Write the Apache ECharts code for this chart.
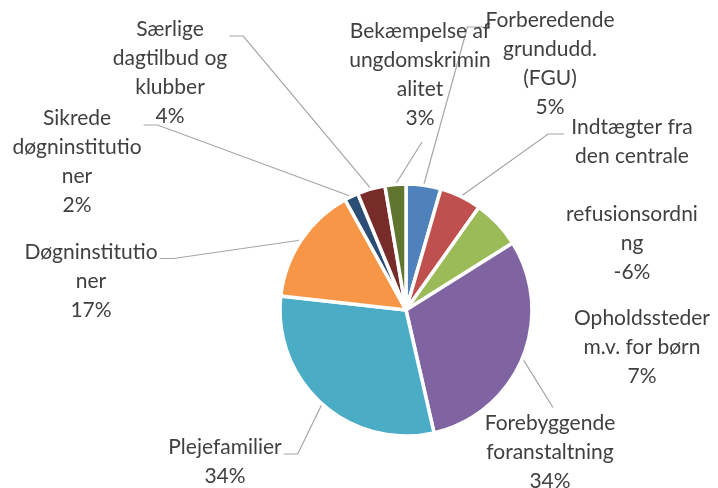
<!DOCTYPE html>
<html>
<head>
<meta charset="utf-8">
<script src="https://cdn.jsdelivr.net/npm/echarts@6/dist/echarts.min.js"></script>
<style>
  html, body { margin: 0; padding: 0; background: #fff; }
  #chart { width: 718px; height: 488px; }
</style>
</head>
<body>
<div id="chart"></div>
<script>
// categories, in drawing order (clockwise from 12 o'clock)
const categories = [
  "Forberedende grundudd. (FGU)",
  "Indtægter fra den centrale refusionsordning",
  "Opholdssteder m.v. for børn",
  "Forebyggende foranstaltning",
  "Plejefamilier",
  "Døgninstitutioner",
  "Sikrede døgninstitutioner",
  "Særlige dagtilbud og klubber",
  "Bekæmpelse af ungdomskriminalitet"
];
// how the labels wrap in the original
const wrappedNames = [
  "Forberedende\ngrundudd.\n(FGU)",
  "Indtægter fra\nden centrale\n\nrefusionsordni\nng",
  "Opholdssteder\nm.v. for børn",
  "Forebyggende\nforanstaltning",
  "Plejefamilier",
  "Døgninstitutio\nner",
  "Sikrede\ndøgninstitutio\nner",
  "Særlige\ndagtilbud og\nklubber",
  "Bekæmpelse af\nungdomskrimin\nalitet"
];
// share of the budget (percent); the income line is negative
const shares = [5, -6, 7, 34, 34, 17, 2, 4, 3];
const colors = ["#4F81BD", "#C0504D", "#9BBB59", "#8064A2", "#4BACC6",
                "#F79646", "#2C4D75", "#772C2A", "#5F7530"];

// label placement (center of text block) and where the leader line meets it
const labelPos = [
  { x: 550, y: 64, side: "left" },
  { x: 632, y: 200, side: "left" },
  { x: 642, y: 347, side: "none" },
  { x: 550, y: 452, side: "top" },
  { x: 225, y: 462, side: "right" },
  { x: 91, y: 281, side: "right" },
  { x: 77, y: 162, side: "right" },
  { x: 170, y: 73, side: "right" },
  { x: 420, y: 75, side: "bottom" }
];

const total = shares.reduce((a, b) => a + b, 0);

const chart = echarts.init(document.getElementById("chart"));

chart.setOption({
  backgroundColor: "#fff",
  animation: false,
  color: colors,
  series: [{
    type: "pie",
    center: [406, 310],
    radius: 126,
    startAngle: 90,
    clockwise: true,
    avoidLabelOverlap: false,
    itemStyle: { borderColor: "#fff", borderWidth: 3.5 },
    label: {
      show: true,
      position: "outside",
      fontFamily: "Lato",
      fontSize: 21,
      lineHeight: 29,
      color: "#404040",
      align: "center",
      formatter: (p) => wrappedNames[p.dataIndex] + "\n" +
        Math.round(shares[p.dataIndex] / total * 100) + "%"
    },
    labelLine: {
      show: true,
      length: 10,
      length2: 10,
      lineStyle: { color: "#A6A6A6", width: 1.2 }
    },
    labelLayout: (params) => {
      const pos = labelPos[params.dataIndex];
      const w = params.labelRect.width;
      const h = params.labelRect.height;
      const left = pos.x - w / 2, right = pos.x + w / 2;
      const top = pos.y - h / 2, bottom = pos.y + h / 2;
      const pts = params.labelLinePoints;
      const out = { x: pos.x, y: pos.y, align: "center", verticalAlign: "middle" };
      if (!pts || pos.side === "none") return out;
      const a = pts[0];
      let end, elbow;
      if (pos.side === "left") {
        end = [left - 2, top + 21];
        elbow = [end[0] - 16, end[1]];
      } else if (pos.side === "right") {
        end = [right + 2, top + 21];
        elbow = [end[0] + 14, end[1]];
      } else if (pos.side === "bottom") {
        end = [pos.x + 2, bottom + 9];
        elbow = [(a[0] + end[0]) / 2, (a[1] + end[1]) / 2];
      } else {
        end = [pos.x + 3, top - 1];
        elbow = [(a[0] + end[0]) / 2, (a[1] + end[1]) / 2];
      }
      out.labelLinePoints = [a, elbow, end];
      return out;
    },
    data: categories.map((name, i) => ({
      name: name,
      value: Math.abs(shares[i]),
      labelLine: { show: labelPos[i].side !== "none" }
    }))
  }]
});
</script>
</body>
</html>
